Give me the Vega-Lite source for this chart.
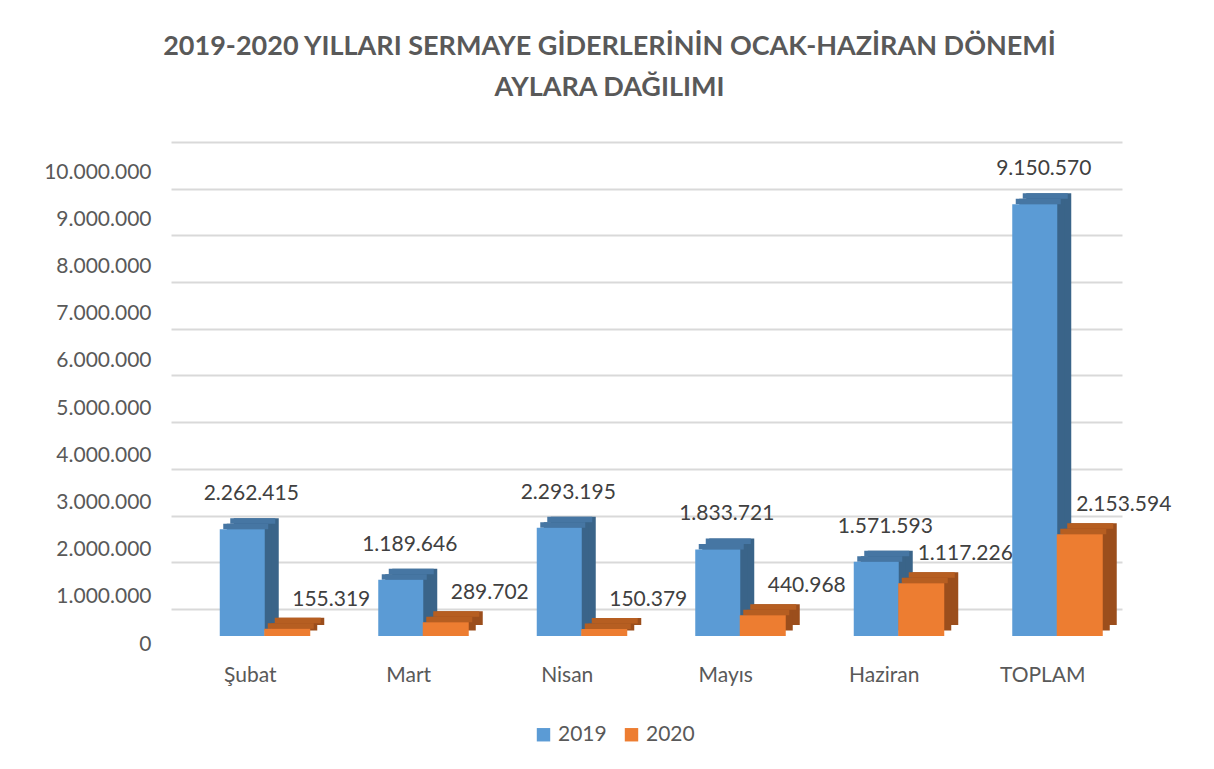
{
  "$schema": "https://vega.github.io/schema/vega-lite/v6.json",
  "autosize": {"type": "none"},
  "width": 951,
  "height": 494,
  "padding": {"left": 171, "top": 142, "right": 92, "bottom": 133},
  "background": "white",
  "title": {
    "text": ["2019-2020 YILLARI SERMAYE GİDERLERİNİN OCAK-HAZİRAN DÖNEMİ", "AYLARA DAĞILIMI"],
    "anchor": "middle",
    "font": "Lato",
    "fontSize": 27,
    "fontWeight": "bold",
    "color": "#595959",
    "lineHeight": 41,
    "offset": 40,
    "dx": -37
  },
  "data": {
    "values": [
      {"ay": "Şubat", "yil": "2019", "deger": 2262415},
      {"ay": "Şubat", "yil": "2020", "deger": 155319},
      {"ay": "Mart", "yil": "2019", "deger": 1189646},
      {"ay": "Mart", "yil": "2020", "deger": 289702},
      {"ay": "Nisan", "yil": "2019", "deger": 2293195},
      {"ay": "Nisan", "yil": "2020", "deger": 150379},
      {"ay": "Mayıs", "yil": "2019", "deger": 1833721},
      {"ay": "Mayıs", "yil": "2020", "deger": 440968},
      {"ay": "Haziran", "yil": "2019", "deger": 1571593},
      {"ay": "Haziran", "yil": "2020", "deger": 1117226},
      {"ay": "TOPLAM", "yil": "2019", "deger": 9150570},
      {"ay": "TOPLAM", "yil": "2020", "deger": 2153594}
    ]
  },
  "layer": [
    {
      "mark": {"type": "rule", "opacity": 0},
      "encoding": {
        "y": {
          "field": "deger",
          "type": "quantitative",
          "scale": {"domain": [-579400, 10000000], "nice": false, "zero": false},
          "axis": {
            "orient": "left",
            "grid": true,
            "gridColor": "#d9d9d9",
            "gridWidth": 2,
            "labels": false,
            "ticks": false,
            "domain": false,
            "title": null,
            "values": [0, 1000000, 2000000, 3000000, 4000000, 5000000, 6000000, 7000000, 8000000, 9000000, 10000000]
          }
        }
      }
    },
    {
      "encoding": {
        "x": {
          "field": "ay",
          "type": "nominal",
          "sort": ["Şubat", "Mart", "Nisan", "Mayıs", "Haziran", "TOPLAM"],
          "scale": {"paddingInner": 0, "paddingOuter": 0},
          "axis": {
            "title": null,
            "labelFont": "Lato",
            "labelFontSize": 21,
            "labelColor": "#595959",
            "labelPadding": 28,
            "labelAngle": 0,
            "ticks": false,
            "domain": false,
            "grid": false
          }
        },
        "y": {
          "field": "deger",
          "type": "quantitative",
          "scale": {"domain": [0, 10467000], "nice": false},
          "axis": {
            "orient": "left",
            "title": null,
            "grid": false,
            "ticks": false,
            "domain": false,
            "labelOffset": 8,
            "labelPadding": 20,
            "format": ",d",
            "labelFont": "Lato",
            "labelFontSize": 21,
            "labelColor": "#595959",
            "values": [0, 1000000, 2000000, 3000000, 4000000, 5000000, 6000000, 7000000, 8000000, 9000000, 10000000]
          }
        }
      },
      "layer": [
        {
          "transform": [{"filter": "datum.yil === '2019'"}],
          "mark": {"type": "bar", "width": 45, "xOffset": 6, "yOffset": -11, "color": "#3A6489"}
        },
        {
          "transform": [{"filter": "datum.yil === '2019'"}],
          "mark": {"type": "bar", "width": 45, "xOffset": -1, "yOffset": -5.5, "color": "#3A6489"}
        },
        {
          "transform": [{"filter": "datum.yil === '2019'"}],
          "mark": {"type": "tick", "orient": "horizontal", "size": 45, "thickness": 5.5, "xOffset": 2.5, "yOffset": -8.25, "color": "#4676A3", "opacity": 1}
        },
        {
          "transform": [{"filter": "datum.yil === '2019'"}],
          "mark": {"type": "tick", "orient": "horizontal", "size": 45, "thickness": 5.5, "xOffset": -4.5, "yOffset": -2.75, "color": "#4676A3", "opacity": 1}
        },
        {
          "transform": [{"filter": "datum.yil === '2019'"}],
          "mark": {"type": "bar", "width": 45, "xOffset": -8},
          "encoding": {
            "color": {
              "field": "yil",
              "type": "nominal",
              "scale": {"domain": ["2019", "2020"], "range": ["#5B9BD5", "#ED7D31"]},
              "legend": {"title": null}
            }
          }
        },
        {
          "transform": [{"filter": "datum.yil === '2020'"}],
          "mark": {"type": "bar", "width": 46, "xOffset": 51, "yOffset": -11, "color": "#9B4E1C"}
        },
        {
          "transform": [{"filter": "datum.yil === '2020'"}],
          "mark": {"type": "bar", "width": 46, "xOffset": 44, "yOffset": -5.5, "color": "#9B4E1C"}
        },
        {
          "transform": [{"filter": "datum.yil === '2020'"}],
          "mark": {"type": "tick", "orient": "horizontal", "size": 46, "thickness": 5.5, "xOffset": 47.5, "yOffset": -8.25, "color": "#B65E21", "opacity": 1}
        },
        {
          "transform": [{"filter": "datum.yil === '2020'"}],
          "mark": {"type": "tick", "orient": "horizontal", "size": 46, "thickness": 5.5, "xOffset": 40.5, "yOffset": -2.75, "color": "#B65E21", "opacity": 1}
        },
        {
          "transform": [{"filter": "datum.yil === '2020'"}],
          "mark": {"type": "bar", "width": 46, "xOffset": 37},
          "encoding": {
            "color": {
              "field": "yil",
              "type": "nominal",
              "scale": {"domain": ["2019", "2020"], "range": ["#5B9BD5", "#ED7D31"]},
              "legend": {"title": null}
            }
          }
        },
        {
          "transform": [{"filter": "datum.yil === '2019'"}],
          "mark": {"type": "text", "xOffset": 1, "yOffset": -35, "font": "Lato", "fontSize": 21, "color": "#404040"},
          "encoding": {"text": {"field": "deger", "type": "quantitative", "format": ",d"}}
        },
        {
          "transform": [{"filter": "datum.yil === '2020'"}],
          "mark": {"type": "text", "xOffset": 81, "yOffset": -29, "font": "Lato", "fontSize": 21, "color": "#404040"},
          "encoding": {"text": {"field": "deger", "type": "quantitative", "format": ",d"}}
        }
      ]
    }
  ],
  "resolve": {"scale": {"y": "independent"}, "axis": {"y": "independent"}},
  "config": {
    "locale": {"number": {"decimal": ",", "thousands": ".", "grouping": [3], "currency": ["", ""]}},
    "view": {"stroke": null},
    "legend": {
      "orient": "none",
      "legendX": 362,
      "legendY": 582,
      "direction": "horizontal",
      "symbolType": "square",
      "symbolSize": 180,
      "symbolStrokeWidth": 0,
      "labelFont": "Lato",
      "labelFontSize": 21,
      "labelColor": "#595959",
      "labelOffset": 4,
      "columnPadding": 14
    }
  }
}
